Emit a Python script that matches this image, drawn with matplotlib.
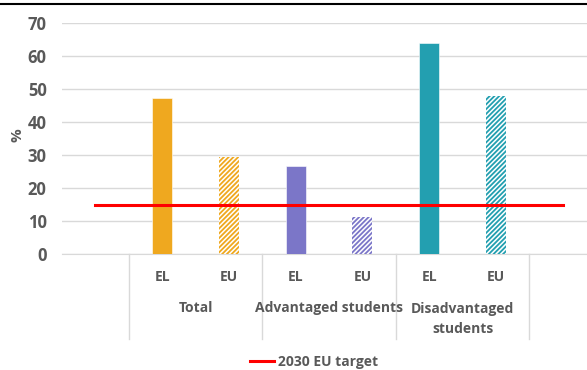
import numpy as np
import matplotlib.pyplot as plt
from matplotlib.lines import Line2D

# data
groups = ["Total", "Advantaged students", "Disadvantaged\nstudents"]
countries = ["EL", "EU"]
el_values = [47.2, 26.6, 63.9]
eu_values = [29.3, 11.1, 47.8]
target = 15
colors = ["#EFA81F", "#7B76C8", "#239FB0"]

grey = "#595959"
plt.rcParams["font.family"] = ["Open Sans", "DejaVu Sans"]
plt.rcParams["font.weight"] = "bold"
plt.rcParams["hatch.linewidth"] = 1.3

fig = plt.figure(figsize=(5.87, 3.70), dpi=100)
W, H = 587, 370
ax = fig.add_axes([62 / W, 1 - 254 / H, (596 - 62) / W, (254 - 23) / H])

# categories: blank, EL, EU, EL, EU, EL, EU, blank
x_el = np.array([1, 3, 5])
x_eu = x_el + 1
bw = 0.3
for i in range(3):
    ax.bar(x_el[i], el_values[i], width=bw, color=colors[i], zorder=3,
           edgecolor="white", linewidth=0.4)
    ax.bar(x_eu[i], eu_values[i], width=bw, facecolor="white", edgecolor=colors[i],
           hatch="///////", linewidth=0, zorder=3)

ax.plot([0, 7], [target, target], color="#FF0000", lw=2.2, zorder=4, label="2030 EU target")

fs = 10
ax.set_xlim(-0.5, 7.5)
ax.set_ylim(0, 70)
ax.set_yticks(range(0, 71, 10))
ax.tick_params(axis="y", length=0, pad=11, labelsize=12, labelcolor=grey)
ax.set_xticks([])
ax.grid(axis="y", color="#D9D9D9", lw=1, zorder=0)
for s in ["top", "right", "left"]:
    ax.spines[s].set_visible(False)
ax.spines["bottom"].set_color("#D9D9D9")

def fy(px):
    return 1 - px / H

def ay(px):
    # axes fraction for a pixel row measured from the top of the image
    return (254 - px) / (254 - 23)

fig.text(17 / W, fy(135), "%", rotation=90, ha="center", va="center",
         color=grey, fontsize=11, fontweight="bold")

# multi-level category axis
trans = ax.get_xaxis_transform()
for i in range(3):
    for xx, lab in zip([x_el[i], x_eu[i]], countries):
        ax.text(xx, ay(277), lab, transform=trans, ha="center", va="center",
                fontsize=fs, color=grey, fontweight="bold")
    if "\n" in groups[i]:
        ax.text(x_el[i] + 0.5, ay(319), groups[i], transform=trans, ha="center",
                va="center", fontsize=fs, color=grey, fontweight="bold", linespacing=1.5)
    else:
        ax.text(x_el[i] + 0.5, ay(308), groups[i], transform=trans, ha="center",
                va="center", fontsize=fs, color=grey, fontweight="bold")
for xs in [0.5, 2.5, 4.5, 6.5]:
    ax.plot([xs, xs], [0, ay(339)], transform=trans, color="#D9D9D9",
            lw=1, clip_on=False)

fig.legend(loc="center", bbox_to_anchor=(0.535, fy(362)), frameon=False, fontsize=fs,
           handlelength=1.7, handletextpad=0.3, labelcolor=grey)

fig.add_artist(Line2D([0, 1], [fy(4), fy(4)], color="black", lw=1.5))

fig.savefig("out.png", dpi=100)
